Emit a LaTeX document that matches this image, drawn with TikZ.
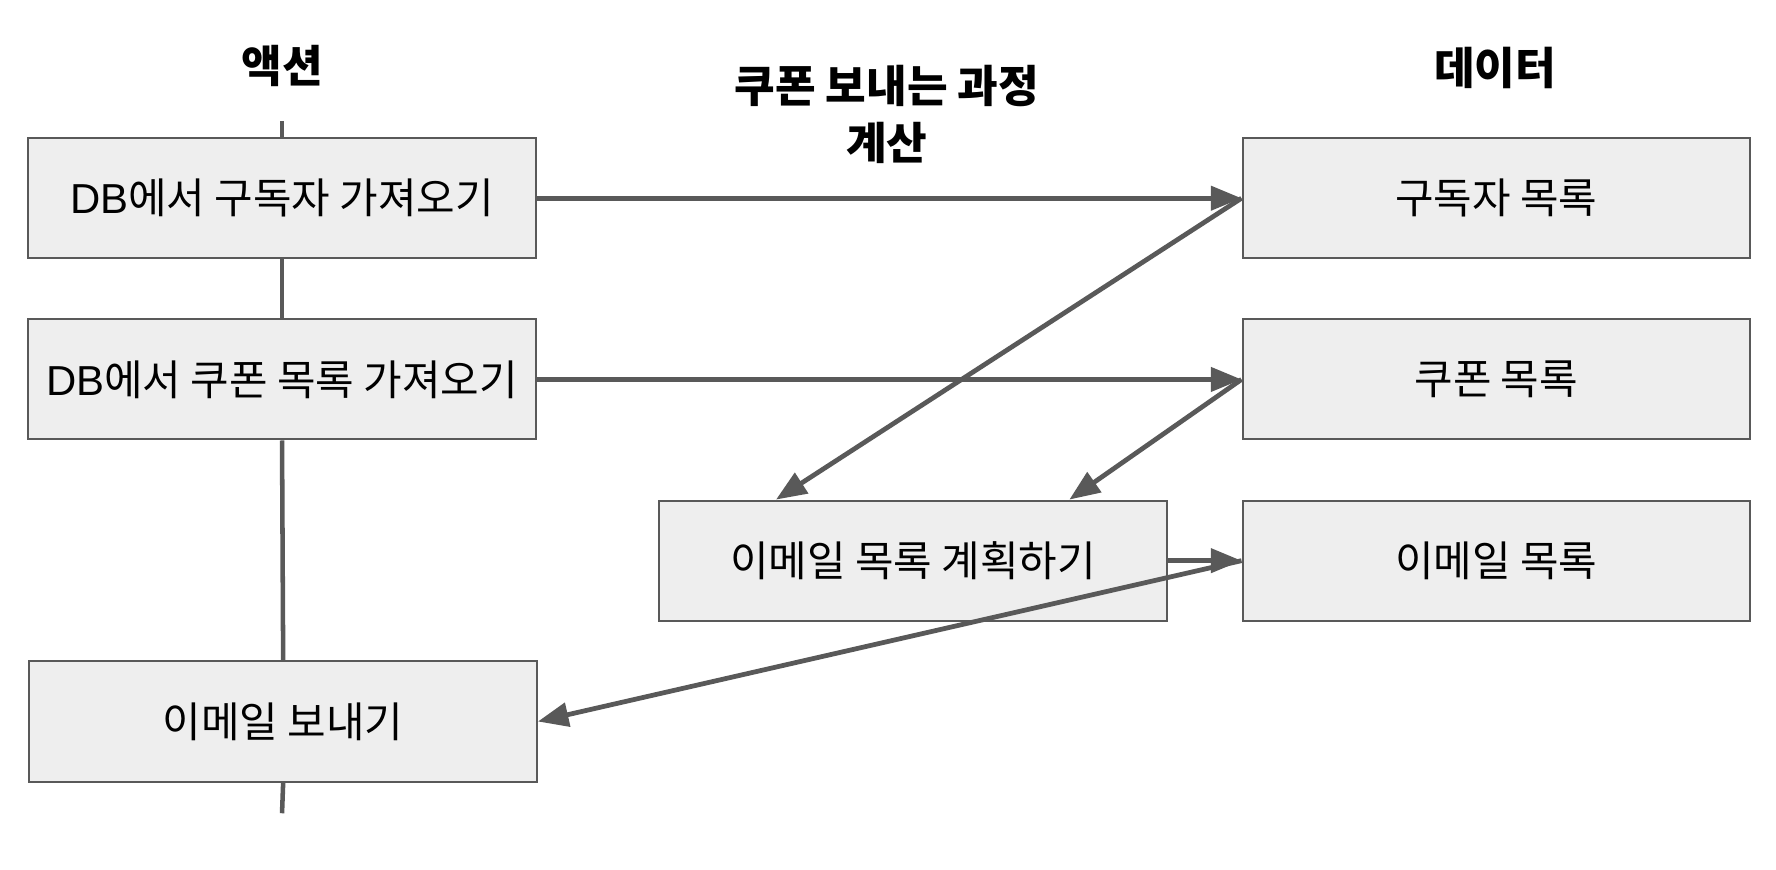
\documentclass[tikz,border=0pt]{standalone}
\usepackage{fontspec}
\setmainfont{Noto Sans CJK KR}
\newfontfamily\lat{Liberation Sans}
\usetikzlibrary{arrows.meta}
\definecolor{ln}{HTML}{595959}
\definecolor{bx}{HTML}{EEEEEE}
\tikzset{
  box/.style={draw=ln, line width=1.8pt, fill=bx, minimum width=448pt, minimum height=106pt, inner sep=0pt, font=\fontsize{37}{44}\selectfont},
  ttl/.style={font=\fontsize{39}{50}\selectfont\bfseries, align=center},
  arr/.style={draw=ln, line width=4.2pt, -{Triangle[length=27pt,width=21pt]}},
  spine/.style={draw=ln, line width=4pt}
}
\begin{document}
\begin{tikzpicture}[x=1pt,y=-1pt]
\useasboundingbox (0,0) rectangle (1568,768);
% titles
\node[ttl] (tA) at (249,58) {액션};
\node[ttl] (tB) at (783,101) {쿠폰 보내는 과정\\계산};
\node[ttl] (tC) at (1320,60) {데이터};
% action column
\coordinate (top) at (249,107);
\coordinate (bot) at (249,718);
\node[box] (a1) at (249,175) {{\lat DB}에서 구독자 가져오기};
\node[box] (a2) at (249,335) {{\lat DB}에서 쿠폰 목록 가져오기};
\node[box] (a4) at (250,637) {이메일 보내기};
\node[box] (m) at (806,495) {이메일 목록 계획하기};
% data column
\node[box] (d1) at (1321,175) {구독자 목록};
\node[box] (d2) at (1321,335) {쿠폰 목록};
\node[box] (d3) at (1321,495) {이메일 목록};
% spine
\draw[spine] (top) -- (a1.north);
\draw[spine] (a1.south) -- (a2.north);
\draw[spine] (a2.south) -- (a4.north);
\draw[spine] (a4.south) -- (bot);
% arrows
\draw[arr] (a1.east) -- (d1.west);
\draw[arr] (a2.east) -- (d2.west);
\draw[arr] (d1.west) -- ([xshift=104pt]m.north west);
\draw[arr] (d2.west) -- ([xshift=363pt]m.north west);
\draw[arr] (m.east) -- (d3.west);
\draw[arr] (d3.west) -- (a4.east);
\end{tikzpicture}
\end{document}
